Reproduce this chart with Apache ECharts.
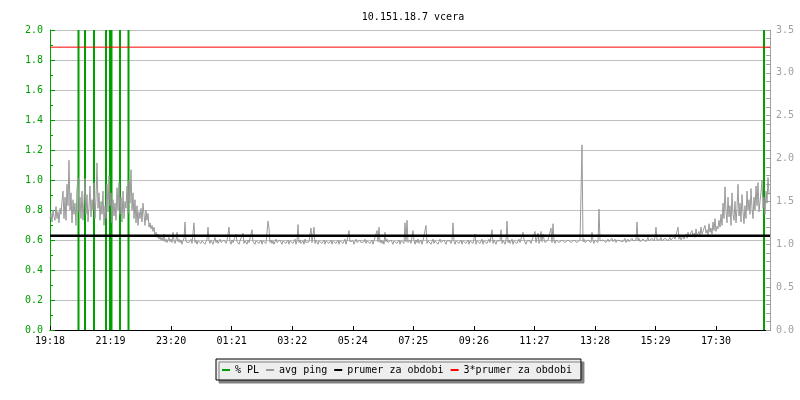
<!DOCTYPE html>
<html>
<head>
<meta charset="utf-8">
<script src="https://cdn.jsdelivr.net/npm/echarts@6/dist/echarts.min.js"></script>
<style>html,body{margin:0;padding:0;background:#fff}#c{width:800px;height:400px}</style>
</head>
<body>
<div id="c"></div>
<script>
var titleText = '10.151.18.7 vcera';
var xTickLabels = ['19:18','21:19','23:20','01:21','03:22','05:24','07:25','09:26','11:27','13:28','15:29','17:30'];
var spanMinutes = 1440;
var labelStep = 121.1;
var pingStepMinutes = 2;
// avg ping (ms), one value every 2 minutes
var pingValues = [
1.30,1.36,1.26,1.40,1.32,1.28,1.44,1.30,1.38,1.25,
1.42,1.35,1.50,1.62,1.30,1.55,1.28,1.70,1.45,1.98,
1.40,1.60,1.25,1.52,1.35,1.48,1.22,1.65,1.78,1.38,
1.55,1.30,1.62,1.28,1.50,1.77,1.35,1.58,1.26,1.44,
1.68,1.32,1.52,1.40,1.72,1.30,1.55,1.95,1.42,1.60,
1.28,1.50,1.35,1.62,1.22,1.45,1.30,1.70,1.38,1.80,
1.45,1.60,1.25,1.52,1.33,1.48,1.28,1.66,1.40,1.72,
1.35,1.55,1.26,1.62,1.30,1.50,1.42,1.68,1.36,1.75,
1.48,1.87,1.40,1.60,1.30,1.52,1.25,1.45,1.22,1.38,
1.30,1.42,1.26,1.48,1.35,1.22,1.40,1.28,1.36,1.20,
1.25,1.18,1.22,1.15,1.20,1.10,1.14,1.08,1.12,1.06,
1.10,1.05,1.08,1.04,1.12,1.03,1.06,1.02,1.05,1.08,
1.03,1.06,1.02,1.14,1.04,1.01,1.05,1.14,1.03,1.06,
1.02,1.05,1.00,1.04,1.07,1.26,1.03,1.01,1.05,1.02,
1.04,1.06,1.01,1.03,1.25,1.02,1.05,1.00,1.04,1.03,
1.06,1.01,1.04,1.02,1.05,1.00,1.03,1.06,1.20,1.04,
1.01,1.05,1.03,1.00,1.04,1.08,1.02,1.05,1.01,1.03,
1.06,1.02,1.04,1.00,1.05,1.03,1.01,1.04,1.06,1.20,
1.03,1.00,1.05,1.02,1.04,1.01,1.12,1.03,1.05,1.00,
1.04,1.02,1.06,1.13,1.01,1.04,1.03,1.00,1.05,1.02,
1.04,1.01,1.17,1.03,1.05,1.00,1.04,1.02,1.06,1.01,
1.03,1.05,1.00,1.04,1.02,1.06,1.01,1.03,1.27,1.19,
1.02,1.05,1.01,1.04,1.00,1.03,1.06,1.02,1.04,1.01,
1.05,1.03,1.00,1.04,1.02,1.06,1.01,1.03,1.05,1.00,
1.04,1.02,1.05,1.01,1.03,1.06,1.00,1.04,1.23,1.02,
1.05,1.01,1.03,1.04,1.00,1.06,1.02,1.04,1.01,1.03,
1.05,1.19,1.02,1.04,1.20,1.01,1.05,1.03,1.00,1.04,
1.02,1.06,1.01,1.03,1.05,1.00,1.04,1.02,1.06,1.01,
1.03,1.05,1.00,1.04,1.02,1.06,1.01,1.03,1.05,1.00,
1.04,1.02,1.05,1.01,1.03,1.06,1.00,1.04,1.02,1.16,
1.03,1.05,1.01,1.04,1.00,1.03,1.06,1.02,1.04,1.01,
1.05,1.02,1.04,1.00,1.03,1.06,1.01,1.04,1.02,1.05,
1.01,1.03,1.05,1.00,1.04,1.02,1.06,1.16,1.03,1.20,
1.02,1.05,1.01,1.04,1.00,1.14,1.03,1.06,1.02,1.04,
1.01,1.05,1.03,1.00,1.04,1.02,1.06,1.01,1.03,1.05,
1.00,1.04,1.02,1.06,1.01,1.25,1.03,1.28,1.02,1.04,
1.05,1.01,1.03,1.16,1.04,1.00,1.05,1.02,1.06,1.01,
1.03,1.05,1.00,1.04,1.02,1.06,1.22,1.01,1.04,1.02,
1.05,1.00,1.03,1.06,1.01,1.04,1.02,1.05,1.00,1.03,
1.06,1.02,1.04,1.01,1.05,1.03,1.00,1.04,1.06,1.02,
1.04,1.01,1.05,1.25,1.03,1.00,1.04,1.02,1.06,1.01,
1.03,1.05,1.00,1.04,1.02,1.06,1.01,1.03,1.05,1.00,
1.04,1.02,1.06,1.01,1.03,1.12,1.00,1.04,1.02,1.05,
1.01,1.03,1.06,1.00,1.04,1.02,1.05,1.01,1.03,1.06,
1.02,1.04,1.17,1.01,1.05,1.03,1.00,1.04,1.06,1.02,
1.04,1.17,1.01,1.05,1.03,1.00,1.04,1.27,1.02,1.05,
1.01,1.03,1.06,1.00,1.04,1.02,1.05,1.01,1.03,1.06,
1.02,1.04,1.01,1.14,1.05,1.03,1.00,1.04,1.06,1.02,
1.04,1.01,1.05,1.03,1.06,1.15,1.02,1.04,1.13,1.01,
1.05,1.15,1.03,1.12,1.06,1.02,1.04,1.01,1.05,1.03,
1.06,1.19,1.02,1.24,1.04,1.01,1.05,1.03,1.06,1.02,
1.04,1.01,1.05,1.03,1.06,1.02,1.04,1.01,1.05,1.03,
1.06,1.02,1.04,1.01,1.05,1.03,1.06,1.02,1.04,1.01,
1.05,1.59,2.16,1.03,1.06,1.02,1.04,1.01,1.05,1.03,
1.06,1.02,1.14,1.04,1.01,1.05,1.03,1.06,1.02,1.41,
1.04,1.06,1.02,1.05,1.03,1.07,1.02,1.04,1.06,1.03,
1.05,1.02,1.07,1.03,1.04,1.06,1.02,1.05,1.03,1.07,
1.04,1.02,1.06,1.03,1.05,1.07,1.02,1.04,1.06,1.03,
1.05,1.02,1.07,1.04,1.06,1.03,1.05,1.26,1.04,1.07,
1.03,1.05,1.02,1.06,1.04,1.07,1.03,1.05,1.08,1.04,
1.06,1.03,1.07,1.05,1.04,1.08,1.20,1.05,1.03,1.07,
1.05,1.08,1.04,1.06,1.03,1.07,1.05,1.09,1.04,1.06,
1.08,1.05,1.07,1.04,1.09,1.06,1.05,1.08,1.20,1.06,
1.09,1.05,1.07,1.10,1.06,1.08,1.12,1.07,1.14,1.09,
1.11,1.07,1.16,1.09,1.13,1.08,1.18,1.10,1.12,1.15,
1.09,1.20,1.12,1.14,1.10,1.22,1.13,1.17,1.11,1.24,
1.14,1.19,1.12,1.26,1.16,1.30,1.15,1.21,1.18,1.28,
1.20,1.35,1.22,1.48,1.30,1.67,1.38,1.25,1.55,1.32,
1.45,1.22,1.60,1.35,1.28,1.50,1.25,1.42,1.70,1.33,
1.48,1.26,1.58,1.38,1.24,1.45,1.30,1.62,1.40,1.52,
1.35,1.65,1.42,1.30,1.55,1.40,1.68,1.45,1.72,1.38,
1.50,1.60,1.75,1.42,1.55,1.35,1.62,1.48,1.78,1.58
];
// packet loss events (minutes from start, % lost)
var plMinutes = [57, 70, 88, 112, 120, 123, 140, 157, 1428];
var plValues  = [3.3, 6.7, 3.3, 3.3, 10, 3.3, 6.7, 3.3, 3.3];
var prumer = 1.1;
var prumer3 = 3.3;

var FONT = 'DejaVu Sans Mono';
var pingData = pingValues.map(function (v, i) { return [i * pingStepMinutes, v]; });
var plData = plMinutes.map(function (m, i) { return [m, plValues[i]]; });

var chart = echarts.init(document.getElementById('c'), null, {renderer: 'canvas'});
chart.setOption({
  animation: false,
  title: {
    text: titleText, left: 408, top: 7, textAlign: 'center',
    textStyle: {fontFamily: FONT, fontSize: 10, fontWeight: 'normal', color: '#000'}
  },
  legend: {
    left: 216, top: 359,
    padding: [6, 9, 5, 6],
    itemGap: 7, itemWidth: 8, itemHeight: 2,
    icon: 'rect',
    selectedMode: false,
    backgroundColor: '#eeeeee', borderColor: '#000', borderWidth: 1,
    shadowColor: '#808080', shadowBlur: 0, shadowOffsetX: 3, shadowOffsetY: 3,
    textStyle: {fontFamily: FONT, fontSize: 10, color: '#000'},
    data: ['% PL', 'avg ping', 'prumer za obdobi', '3*prumer za obdobi']
  },
  grid: {left: 50, right: 30, top: 30, bottom: 70, containLabel: false},
  xAxis: {
    type: 'value', min: 0, max: spanMinutes, interval: labelStep,
    axisLine: {lineStyle: {color: '#000', width: 1}},
    axisTick: {inside: true, length: 4, lineStyle: {color: '#000'}},
    axisLabel: {
      margin: 6, fontFamily: FONT, fontSize: 10, color: '#000', showMaxLabel: false,
      formatter: function (v) { var k = Math.round(v / labelStep); return xTickLabels[k] || ''; }
    },
    splitLine: {show: false}
  },
  yAxis: [{
    type: 'value', min: 0, max: 2, interval: 0.2, position: 'left',
    axisLine: {show: true, lineStyle: {color: '#00a000'}},
    axisTick: {show: true, inside: true, length: 5, lineStyle: {color: '#00a000'}},
    minorTick: {show: true, splitNumber: 2, length: 3, lineStyle: {color: '#00a000'}},
    axisLabel: {margin: 7, fontFamily: FONT, fontSize: 10, color: '#00a000',
      formatter: function (v) { return v.toFixed(1); }},
    splitLine: {show: true, lineStyle: {color: '#c0c0c0', width: 1}}
  }, {
    type: 'value', min: 0, max: 3.5, interval: 0.5, position: 'right',
    axisLine: {show: true, lineStyle: {color: '#a0a0a0'}},
    axisTick: {show: true, inside: true, length: 4, lineStyle: {color: '#a0a0a0'}},
    minorTick: {show: true, splitNumber: 5, length: 4, lineStyle: {color: '#a0a0a0'}},
    axisLabel: {margin: 6, fontFamily: FONT, fontSize: 10, color: '#a0a0a0',
      formatter: function (v) { return v.toFixed(1); }},
    splitLine: {show: false}
  }],
  series: [{
    name: '% PL', type: 'bar', yAxisIndex: 0, barWidth: 2, clip: true,
    itemStyle: {color: '#00a000'}, data: plData, z: 2
  }, {
    name: 'avg ping', type: 'line', yAxisIndex: 1, showSymbol: false, symbol: 'none',
    lineStyle: {color: '#999999', width: 1}, itemStyle: {color: '#999999'},
    data: pingData, z: 3
  }, {
    name: 'prumer za obdobi', type: 'line', yAxisIndex: 1, symbol: 'none',
    lineStyle: {color: '#000000', width: 2.5}, itemStyle: {color: '#000000'},
    data: [[0, prumer], [spanMinutes, prumer]], z: 4
  }, {
    name: '3*prumer za obdobi', type: 'line', yAxisIndex: 1, symbol: 'none',
    lineStyle: {color: '#ff0000', width: 1}, itemStyle: {color: '#ff0000'},
    data: [[0, prumer3], [spanMinutes, prumer3]], z: 4
  }]
});
</script>
</body>
</html>
